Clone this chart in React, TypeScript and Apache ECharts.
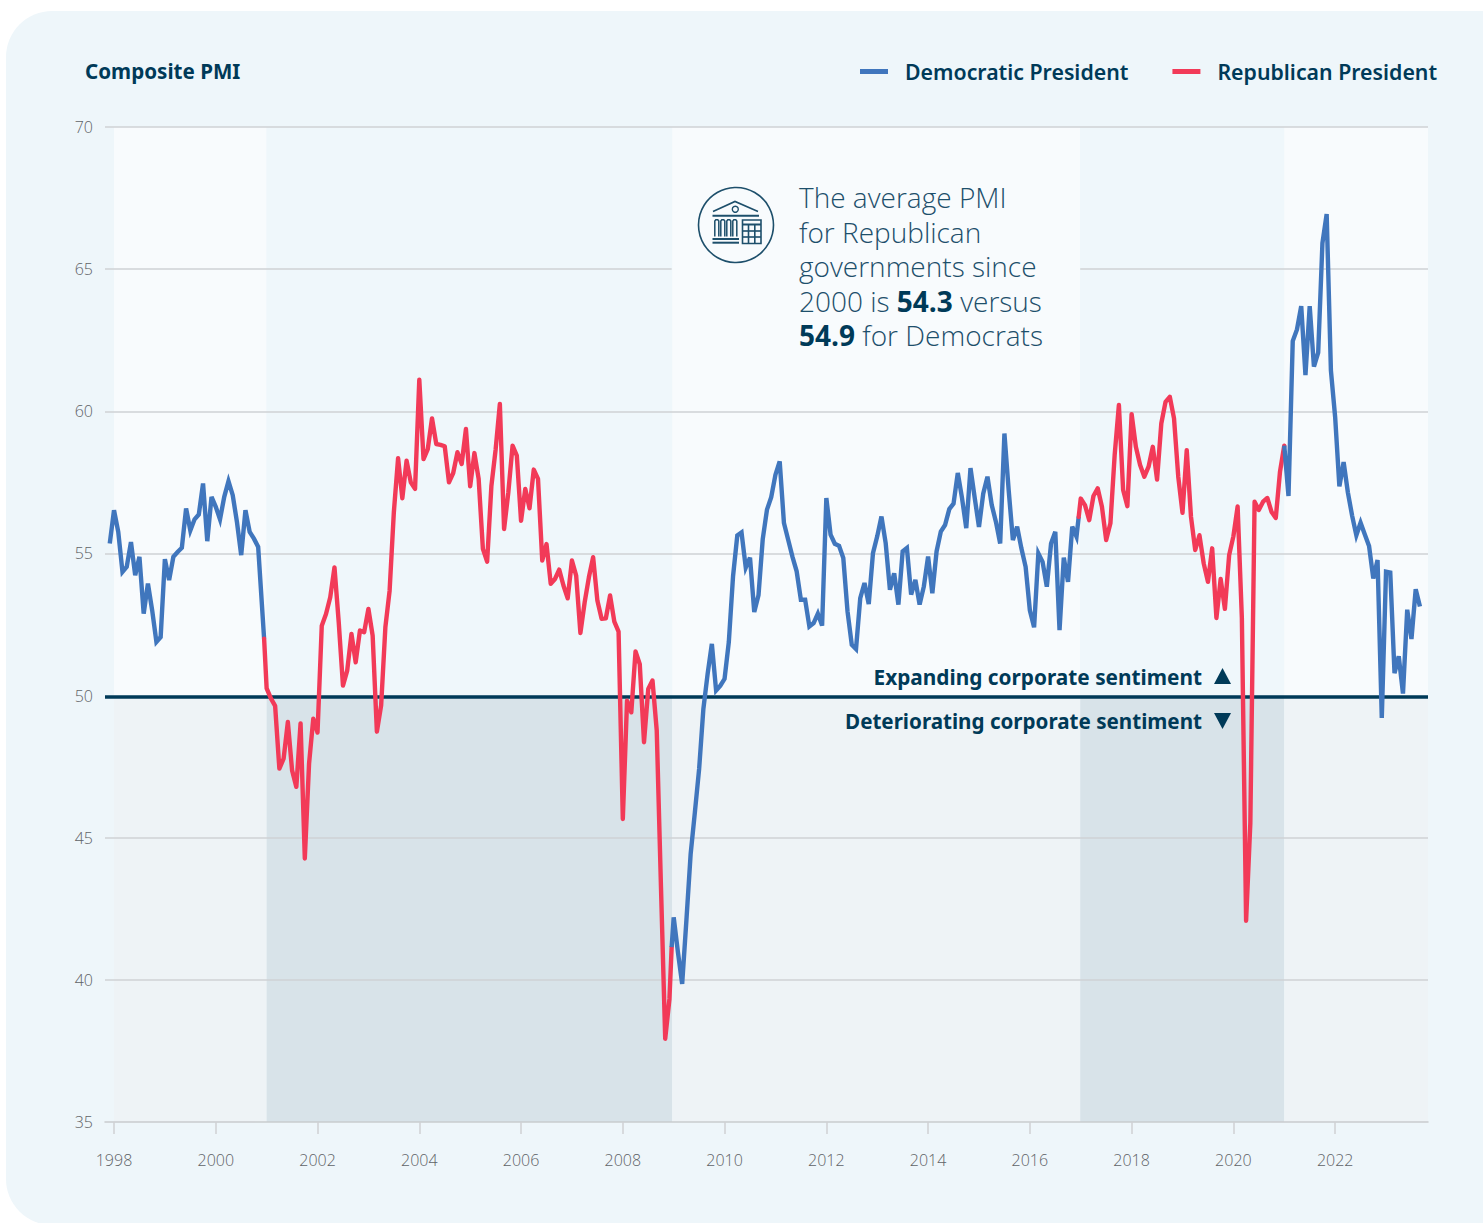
import React, { useEffect, useRef } from "react";
import * as echarts from "echarts";

const DEM = "Democratic President";
const REP = "Republican President";
const yTicks = [35, 40, 45, 50, 55, 60, 65, 70];
const gridValues = [40, 45, 55, 60, 70];
const xTicks = [1998, 2000, 2002, 2004, 2006, 2008, 2010, 2012, 2014, 2016, 2018, 2020, 2022];

// Monthly composite PMI, per presidential term
const clinton = [
  55.35,
  56.52, 55.76, 54.35, 54.53, 55.4, 54.23, 54.88, 52.88, 53.94, 53.0, 51.89, 52.06,
  54.8, 54.06, 54.88, 55.05, 55.2, 56.58, 55.81, 56.2, 56.37, 57.46, 55.43, 56.99,
  56.64, 56.2, 56.99, 57.54, 57.05, 56.1, 54.94, 56.52, 55.76, 55.52, 55.23,
];
const bush = [
  50.25, 49.9, 49.64, 47.43, 47.78, 49.07, 47.37, 46.79, 49.02, 44.27, 47.6, 49.19,
  48.7, 52.46, 52.87, 53.46, 54.51, 52.58, 50.35, 50.88, 52.17, 51.17, 52.29, 52.23,
  53.05, 52.11, 48.73, 49.65, 52.4, 53.69, 56.45, 58.35, 56.94, 58.26, 57.5, 57.27,
  61.11, 58.32, 58.67, 59.75, 58.85, 58.82, 58.77, 57.5, 57.83, 58.56, 58.15, 59.38,
  57.36, 58.53, 57.62, 55.16, 54.71, 57.36, 58.65, 60.26, 55.86, 57.15, 58.79, 58.44,
  56.15, 57.27, 56.59, 57.95, 57.62, 54.75, 55.33, 53.93, 54.1, 54.43, 53.87, 53.42,
  54.75, 54.22, 52.2, 53.28, 54.16, 54.87, 53.34, 52.7, 52.72, 53.52, 52.6, 52.25,
  45.66, 49.82, 49.41, 51.55, 51.1, 48.36, 50.23, 50.53, 48.77, 43.26, 37.93, 39.33,
];
const obama = [
  42.2, 40.97, 39.86, 42.1, 44.43, 45.9, 47.42, 49.53, 50.76, 51.82, 50.18, 50.35,
  50.59, 51.88, 54.2, 55.63, 55.74, 54.5, 54.85, 52.94, 53.53, 55.5, 56.54, 56.98,
  57.77, 58.24, 56.07, 55.48, 54.89, 54.37, 53.37, 53.37, 52.43, 52.55, 52.88, 52.46,
  56.95, 55.66, 55.34, 55.27, 54.84, 52.96, 51.79, 51.64, 53.43, 53.96, 53.22, 55.01,
  55.6, 56.3, 55.36, 53.72, 54.3, 53.2, 55.07, 55.19, 53.55, 54.07, 53.2, 53.84,
  54.89, 53.6, 55.07, 55.77, 56.0, 56.56, 56.75, 57.83, 56.95, 55.89, 58.0, 56.95,
  55.93, 57.1, 57.7, 56.71, 56.11, 55.35, 59.22, 57.23, 55.47, 55.94, 55.18, 54.53,
  53.0, 52.4, 55.0, 54.7, 53.83, 55.35, 55.76, 52.3, 54.85, 54.0, 55.94, 55.59,
];
const trump = [
  56.93, 56.7, 56.17, 57.02, 57.29, 56.64, 55.47, 56.06, 58.46, 60.22, 57.23, 56.66,
  59.9, 58.75, 58.11, 57.7, 58.05, 58.75, 57.6, 59.57, 60.33, 60.51, 59.75, 57.7,
  56.43, 58.63, 56.29, 55.12, 55.64, 54.65, 54.0, 55.18, 52.73, 54.1, 53.05, 54.94,
  55.6, 56.65, 52.73, 42.08, 45.52, 56.82, 56.53, 56.82, 56.95, 56.46, 56.25, 57.88,
];
const biden = [
  57.02, 62.47, 62.88, 63.7, 61.27, 63.7, 61.57, 62.06, 65.91, 66.94, 61.44,
  59.8, 57.36, 58.21, 57.15, 56.33, 55.64, 56.08, 55.67, 55.26, 54.12, 54.77,
  49.21, 54.36, 54.33, 50.79, 51.38, 50.07, 53.02, 51.99, 53.74, 53.13,
];
// Where one president's line hands over to the next: [decimal year, PMI]
const handover2001 = [2000.95, 52.0];
const handover2009 = [2008.96, 41.15];
const handover2017 = [2016.96, 56.29];
const handover2021 = [2021.0, 58.79];

const X_MIN = 1997.823;
const X_MAX = 2023.825;

const terms = [
  { from: 1998, to: 2001, party: "D" },
  { from: 2001, to: 2008.97, party: "R" },
  { from: 2008.97, to: 2016.99, party: "D" },
  { from: 2016.99, to: 2021, party: "R" },
  { from: 2021, to: X_MAX, party: "D" },
];

const BLUE = "#4076bd";
const RED = "#f23a58";
const NAVY = "#003a58";
const UPPER: Record<string, string> = { D: "#f8fbfd", R: "#eff7fb" };
const LOWER: Record<string, string> = { D: "#eef3f6", R: "#d8e3e9" };
const FONT = "'Noto Sans'";
const LIGHT = "'Open Sans'";

const monthly = (year: number, month: number, values: number[]) =>
  values.map((v, i) => [year + (month + i) / 12, v]);

const lineSeries = (name: string, color: string, data: number[][]) => ({
  name,
  type: "line",
  data,
  z: 4,
  symbol: "none",
  silent: true,
  lineStyle: { color, width: 4.4, join: name === REP ? "round" : "miter", cap: name === REP ? "round" : "butt" },
  itemStyle: { color },
});

const ln = (x1: number, y1: number, x2: number, y2: number, w = 1.6) => ({
  type: "line",
  shape: { x1, y1, x2, y2 },
  style: { stroke: "#1d4f6b", lineWidth: w },
});

const iconElements = () => {
  const els: any[] = [
    { type: "circle", shape: { cx: 736, cy: 225, r: 37.5 }, style: { fill: "transparent", stroke: "#1d4f6b", lineWidth: 1.6 } },
    { type: "polyline", shape: { points: [[713, 211.5], [735, 201.5], [758, 211.5]] }, style: { fill: "none", stroke: "#1d4f6b", lineWidth: 1.6 } },
    { type: "circle", shape: { cx: 735.3, cy: 209.3, r: 3 }, style: { fill: "transparent", stroke: "#1d4f6b", lineWidth: 1.4 } },
    ln(712.5, 215.7, 759, 215.7, 2),
    ln(712.5, 239, 739, 239, 2),
    ln(712.5, 242.7, 739, 242.7, 2),
    { type: "rect", shape: { x: 742.5, y: 220, width: 18.5, height: 23.5 }, style: { fill: "transparent", stroke: "#1d4f6b", lineWidth: 1.6 } },
    ln(742.5, 224.5, 761, 224.5, 2),
    ln(742.5, 231, 761, 231, 1.6),
    ln(742.5, 237, 761, 237, 1.6),
    ln(748.5, 224.5, 748.5, 243.5, 1.6),
    ln(754.8, 224.5, 754.8, 243.5, 1.6),
  ];
  [714.8, 720.8, 726.8, 732.8].forEach((x) => {
    els.push({
      type: "polyline",
      shape: { points: [[x, 236.5], [x, 221], [x + 1, 219.8], [x + 3, 219.8], [x + 4, 221], [x + 4, 236.5]] },
      style: { fill: "none", stroke: "#1d4f6b", lineWidth: 1.5 },
    });
  });
  return els;
};

export default function App() {
  const ref = useRef<HTMLDivElement>(null);
  useEffect(() => {
    const chart = echarts.init(ref.current!, undefined, { renderer: "svg" });
    const bands: any[] = [];
    terms.forEach((t) => {
      bands.push([
        { xAxis: t.from, yAxis: 50, itemStyle: { color: UPPER[t.party] } },
        { xAxis: t.to, yAxis: 70 },
      ]);
      bands.push([
        { xAxis: t.from, yAxis: 35, itemStyle: { color: LOWER[t.party] } },
        { xAxis: t.to, yAxis: 50 },
      ]);
    });
    const gridSegments: any[] = gridValues.map((v) => [
      { xAxis: X_MIN, yAxis: v },
      { xAxis: X_MAX, yAxis: v },
    ]);
    // the 65 line stops behind the annotation
    gridSegments.push([{ xAxis: X_MIN, yAxis: 65 }, { xAxis: 2008.96, yAxis: 65 }]);
    gridSegments.push([{ xAxis: 2016.99, yAxis: 65 }, { xAxis: X_MAX, yAxis: 65 }]);

    chart.setOption({
      animation: false,
      backgroundColor: "transparent",
      textStyle: { fontFamily: FONT },
      title: {
        text: "Composite PMI",
        left: 85,
        top: 60,
        padding: 0,
        textStyle: { fontFamily: FONT, fontSize: 20.6, fontWeight: 700, color: NAVY },
      },
      legend: {
        data: [
          { name: DEM, icon: "rect" },
          { name: REP, icon: "rect" },
        ],
        left: 860,
        top: 61,
        padding: 0,
        itemWidth: 28,
        itemHeight: 5,
        itemGap: 44,
        selectedMode: false,
        textStyle: { fontFamily: FONT, fontSize: 21.3, fontWeight: 600, color: NAVY, padding: [0, 0, 0, 12] },
      },
      grid: { left: 105, right: 55, top: 127, bottom: 101 },
      xAxis: {
        type: "value",
        min: X_MIN,
        max: X_MAX,
        splitLine: { show: false },
        axisLine: { show: true, onZero: false, lineStyle: { color: "#c9ccce", width: 1.5 } },
        axisTick: { show: true, customValues: xTicks, length: 12, lineStyle: { color: "#cfd1d3", width: 1.5 } },
        axisLabel: {
          customValues: xTicks,
          formatter: (v: number) => String(Math.round(v)),
          color: "#5f6367",
          fontSize: 16,
          fontFamily: LIGHT,
          fontWeight: 300,
          margin: 30,
        },
      },
      yAxis: {
        type: "value",
        min: yTicks[0],
        max: yTicks[yTicks.length - 1],
        interval: 5,
        axisLine: { show: false },
        axisTick: { show: false },
        splitLine: { show: false },
        axisLabel: { color: "#5f6367", fontSize: 16, fontFamily: LIGHT, fontWeight: 300, margin: 12 },
      },
      series: [
        {
          name: "bands",
          type: "line",
          data: [],
          silent: true,
          markArea: { silent: true, z: -1, data: bands },
        },
        {
          name: "gridlines",
          type: "line",
          data: [],
          silent: true,
          markLine: {
            silent: true,
            z: 1,
            symbol: "none",
            label: { show: false },
            lineStyle: { color: "#cfd2d4", width: 1.5, type: "solid" },
            data: gridSegments,
          },
        },
        {
          name: "threshold",
          type: "line",
          data: [],
          silent: true,
          markLine: {
            silent: true,
            z: 2,
            symbol: "none",
            label: { show: false },
            lineStyle: { color: NAVY, width: 3.6, type: "solid" },
            data: [[{ xAxis: X_MIN, yAxis: 49.96 }, { xAxis: X_MAX, yAxis: 49.96 }]],
          },
        },
        lineSeries(DEM, BLUE, [...monthly(1997, 11, clinton), handover2001]),
        lineSeries(REP, RED, [handover2001, ...monthly(2001, 0, bush), handover2009]),
        lineSeries(DEM, BLUE, [handover2009, ...monthly(2009, 0, obama), handover2017]),
        lineSeries(REP, RED, [handover2017, ...monthly(2017, 0, trump), handover2021]),
        lineSeries(DEM, BLUE, [handover2021, ...monthly(2021, 1, biden)]),
      ],
      graphic: {
        elements: [
          ...iconElements(),
          {
            type: "text",
            x: 799,
            y: 180,
            style: {
              text: "The average PMI\nfor Republican\ngovernments since\n2000 is {b|54.3} versus\n{b|54.9} for Democrats",
              fontFamily: LIGHT,
              fontWeight: 300,
              fontSize: 28,
              lineHeight: 34.5,
              fill: "#1d4f6b",
              rich: {
                b: { fontFamily: LIGHT, fontWeight: 700, fontSize: 28, lineHeight: 34.5, fill: NAVY },
              },
            },
          },
          {
            type: "text",
            x: 1202,
            y: 677,
            style: { text: "Expanding corporate sentiment", textAlign: "right", textVerticalAlign: "middle", fontFamily: FONT, fontWeight: 700, fontSize: 20.8, fill: NAVY },
          },
          {
            type: "text",
            x: 1202,
            y: 721,
            style: { text: "Deteriorating corporate sentiment", textAlign: "right", textVerticalAlign: "middle", fontFamily: FONT, fontWeight: 700, fontSize: 20.6, fill: NAVY },
          },
          { type: "polygon", shape: { points: [[1214, 684], [1222.5, 668], [1231, 684]] }, style: { fill: NAVY } },
          { type: "polygon", shape: { points: [[1214, 713], [1222.5, 729], [1231, 713]] }, style: { fill: NAVY } },
        ],
      },
    });
    return () => chart.dispose();
  }, []);
  return (
    <div style={{ position: "fixed", left: 0, top: 0, width: 1483, height: 1223, overflow: "hidden", background: "#fff" }}>
      <div style={{ position: "absolute", left: 6, top: 11, width: 1520, height: 1214, borderRadius: 46, background: "#eef6fa" }} />
      <div ref={ref} style={{ position: "absolute", left: 0, top: 0, width: 1483, height: 1223 }} />
    </div>
  );
}
